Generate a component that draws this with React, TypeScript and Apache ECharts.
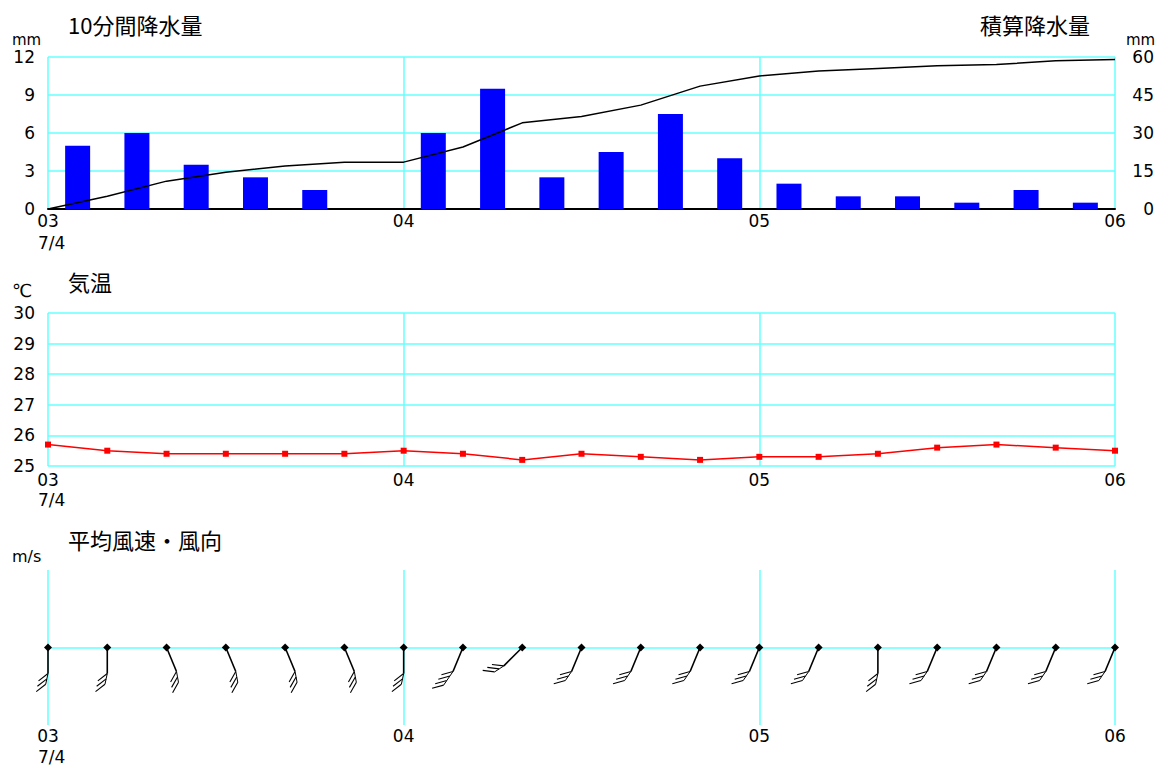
import React, { useEffect, useRef } from 'react';
import * as echarts from 'echarts';

// ---- data ----
const hourLabels = ['03', '04', '05', '06'];
const dateLabel = '7/4';
// 10-minute precipitation (mm), intervals 03:00-03:10 ... 05:50-06:00
const rain10min = [5.0, 6.0, 3.5, 2.5, 1.5, 0, 6.0, 9.5, 2.5, 4.5, 7.5, 4.0, 2.0, 1.0, 1.0, 0.5, 1.5, 0.5];
// cumulative precipitation (mm) at 03:00, 03:10, ... 06:00
const rainCumulative = [0, 5, 11, 14.5, 17, 18.5, 18.5, 24.5, 34, 36.5, 41, 48.5, 52.5, 54.5, 55.5, 56.5, 57, 58.5, 59];
// temperature (°C) at 03:00, 03:10, ... 06:00
const temperature = [25.7, 25.5, 25.4, 25.4, 25.4, 25.4, 25.5, 25.4, 25.2, 25.4, 25.3, 25.2, 25.3, 25.3, 25.4, 25.6, 25.7, 25.6, 25.5];
// wind direction and mean speed (m/s) at 03:00, 03:10, ... 06:00
const windDirection = ['S', 'S', 'SSE', 'SSE', 'SSE', 'SSE', 'S', 'SSW', 'SW', 'SSW', 'SSW', 'SSW', 'SSW', 'SSW', 'S', 'SSW', 'SSW', 'SSW', 'SSW'];
const windSpeed = [3, 3, 3, 3, 3, 3, 3, 4, 3, 3, 3, 3, 3, 3, 3, 3, 3, 3, 3];
const stepMinutes = 10;

const compass: Record<string, number> = {
  N: 0, NNE: 22.5, NE: 45, ENE: 67.5, E: 90, ESE: 112.5, SE: 135, SSE: 157.5,
  S: 180, SSW: 202.5, SW: 225, WSW: 247.5, W: 270, WNW: 292.5, NW: 315, NNW: 337.5,
};

const CYAN = '#66ffff';
const NUM_FONT = 'DejaVu Sans';
const JP_FONT = 'Noto Sans CJK JP';

function xAxisBase(gridIndex: number, labelMargin: number, showLine: boolean) {
  return {
    type: 'value',
    gridIndex,
    min: 0,
    max: 180,
    interval: 60,
    axisTick: { show: false },
    axisLine: { show: showLine, onZero: true, lineStyle: { color: '#000', width: 2 } },
    axisLabel: {
      color: '#000',
      fontFamily: NUM_FONT,
      fontSize: 17,
      margin: labelMargin,
      formatter: (v: number) => hourLabels[Math.round(v / 60)] ?? '',
    },
    splitLine: { show: true, lineStyle: { color: CYAN, width: 1.5 } },
  };
}

function text(t: string, left: number, top: number, size: number, font: string) {
  return {
    type: 'text',
    left,
    top,
    style: { text: t, fill: '#000', fontSize: size, fontFamily: font },
  };
}

export default function App() {
  const ref = useRef<HTMLDivElement>(null);

  useEffect(() => {
    if (!ref.current) return;
    const chart = echarts.init(ref.current, undefined, { renderer: 'svg' });

    const yLabel = {
      color: '#000',
      fontFamily: NUM_FONT,
      fontSize: 17,
      margin: 13,
      padding: [6, 0, 0, 0],
    };

    const option: any = {
      animation: false,
      backgroundColor: '#fff',
      grid: [
        { left: 48, top: 57, width: 1067, height: 152 },
        { left: 48, top: 313, width: 1067, height: 153 },
        { left: 48, top: 570, width: 1067, height: 155 },
      ],
      xAxis: [
        xAxisBase(0, 3, true),
        xAxisBase(1, 5, false),
        xAxisBase(2, 2, false),
      ],
      yAxis: [
        {
          type: 'value', gridIndex: 0, min: 0, max: 12, interval: 3,
          axisLine: { show: false }, axisTick: { show: false },
          axisLabel: yLabel,
          splitLine: { show: true, lineStyle: { color: CYAN, width: 1.5 } },
        },
        {
          type: 'value', gridIndex: 0, min: 0, max: 60, interval: 15, position: 'right',
          axisLine: { show: false }, axisTick: { show: false },
          axisLabel: { ...yLabel, margin: 39, align: 'right' },
          splitLine: { show: false },
        },
        {
          type: 'value', gridIndex: 1, min: 25, max: 30, interval: 1,
          axisLine: { show: false }, axisTick: { show: false },
          axisLabel: yLabel,
          splitLine: { show: true, lineStyle: { color: CYAN, width: 1.5 } },
        },
        {
          type: 'value', gridIndex: 2, min: -1, max: 1, interval: 1,
          axisLine: { show: false }, axisTick: { show: false },
          axisLabel: { show: false },
          splitLine: { show: true, lineStyle: { color: ['rgba(0,0,0,0)', CYAN, 'rgba(0,0,0,0)'], width: 1.5 } },
        },
      ],
      series: [
        {
          type: 'bar',
          name: '10分間降水量',
          xAxisIndex: 0,
          yAxisIndex: 0,
          barWidth: 25,
          itemStyle: { color: '#0000ff' },
          data: rain10min.map((v, i) => [i * stepMinutes + stepMinutes / 2, v]),
          z: 2,
        },
        {
          type: 'line',
          name: '積算降水量',
          xAxisIndex: 0,
          yAxisIndex: 1,
          symbol: 'none',
          lineStyle: { color: '#000', width: 1.5 },
          data: rainCumulative.map((v, i) => [i * stepMinutes, v]),
          z: 3,
        },
        {
          type: 'line',
          name: '気温',
          xAxisIndex: 1,
          yAxisIndex: 2,
          symbol: 'rect',
          symbolSize: 6,
          itemStyle: { color: '#ff0000' },
          lineStyle: { color: '#ff0000', width: 1.5 },
          data: temperature.map((v, i) => [i * stepMinutes, v]),
        },
        {
          type: 'custom',
          name: '平均風速・風向',
          xAxisIndex: 2,
          yAxisIndex: 3,
          encode: { x: 0, y: 1 },
          data: windDirection.map((d, i) => [i * stepMinutes, 0, compass[d], windSpeed[i]]),
          renderItem: (params: any, api: any) => {
            const p = api.coord([api.value(0), 0]);
            const deg = api.value(2);
            const n = api.value(3);
            const rad = (deg * Math.PI) / 180;
            const ux = Math.sin(rad);
            const uy = -Math.cos(rad);
            const base = Math.atan2(uy, ux);
            const L = 26;
            const tip = [p[0] + ux * L, p[1] + uy * L];
            const sa = base + (12 * Math.PI) / 180;
            const fa = base + (52 * Math.PI) / 180;
            const step = 5.5;
            const starts: number[][] = [];
            for (let k = 0; k < n; k++) {
              starts.push([tip[0] + Math.cos(sa) * step * k, tip[1] + Math.sin(sa) * step * k]);
            }
            const children: any[] = [
              {
                type: 'polyline',
                shape: { points: [p, tip] },
                style: { stroke: '#000', lineWidth: 1.6, fill: null },
              },
              {
                type: 'polyline',
                shape: { points: starts },
                style: { stroke: '#000', lineWidth: 1, fill: null },
              },
            ];
            starts.forEach((s) => {
              children.push({
                type: 'line',
                shape: { x1: s[0], y1: s[1], x2: s[0] + Math.cos(fa) * 12, y2: s[1] + Math.sin(fa) * 12 },
                style: { stroke: '#000', lineWidth: 1.1 },
              });
            });
            const r = 4;
            children.push({
              type: 'polygon',
              shape: { points: [[p[0], p[1] - r], [p[0] + r, p[1]], [p[0], p[1] + r], [p[0] - r, p[1]]] },
              style: { fill: '#000' },
            });
            return { type: 'group', children };
          },
          z: 5,
        },
      ],
      graphic: [
        text('10分間降水量', 68, 13, 22, JP_FONT),
        text('積算降水量', 980, 13, 22, JP_FONT),
        text('mm', 12, 32, 15, NUM_FONT),
        text('mm', 1126, 32, 15, NUM_FONT),
        text(dateLabel, 38, 234, 17, NUM_FONT),
        text('気温', 68, 270, 22, JP_FONT),
        text('℃', 12, 281, 18, NUM_FONT),
        text(dateLabel, 38, 491, 17, NUM_FONT),
        text('平均風速・風向', 68, 528, 22, JP_FONT),
        text('m/s', 12, 548, 16, NUM_FONT),
        text(dateLabel, 38, 748, 17, NUM_FONT),
      ],
    };

    chart.setOption(option);
    return () => chart.dispose();
  }, []);

  return (
    <div
      ref={ref}
      style={{ position: 'absolute', left: 0, top: 0, width: 1157, height: 767, background: '#fff' }}
    />
  );
}
